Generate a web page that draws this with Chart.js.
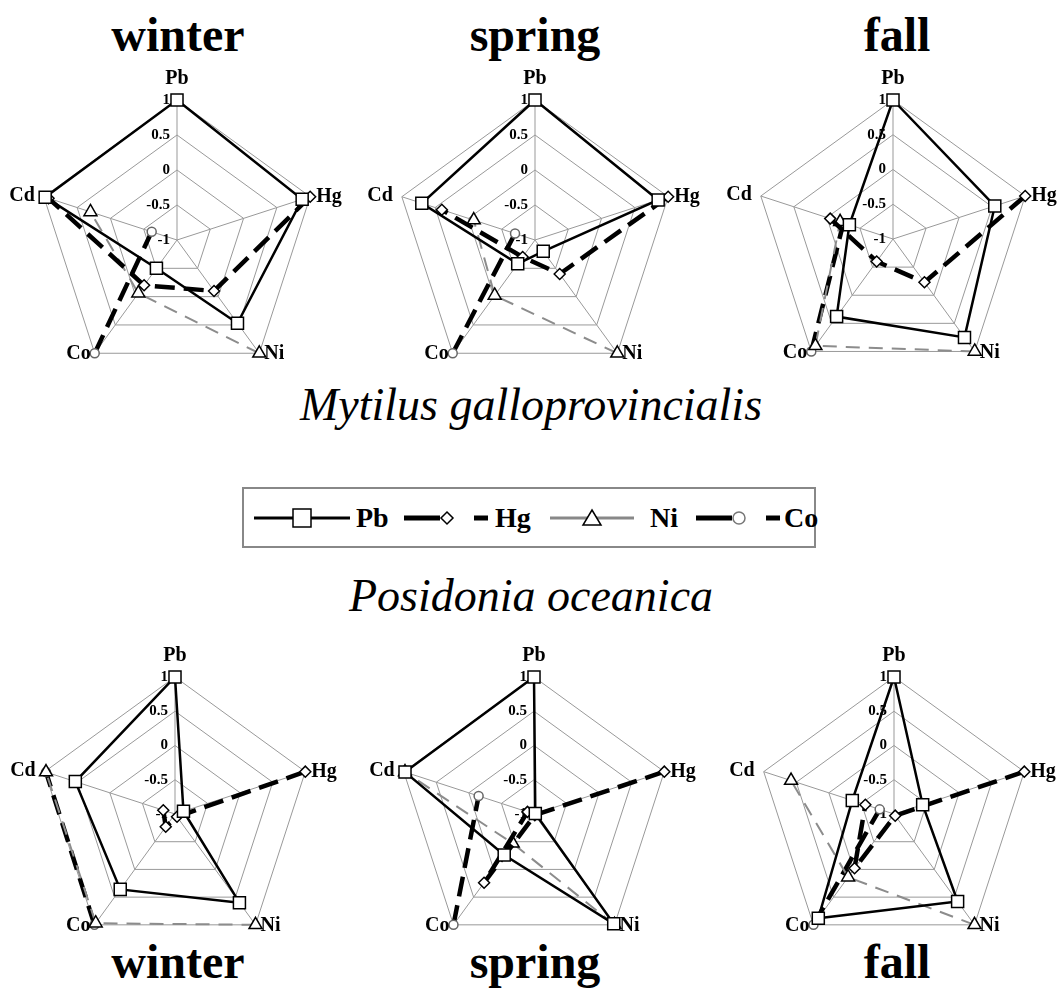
<!DOCTYPE html>
<html>
<head>
<meta charset="utf-8">
<script src="https://cdn.jsdelivr.net/npm/chart.js@4"></script>
<style>
  body { margin: 0; background: #fff; width: 1062px; height: 992px; position: relative; overflow: hidden;
         font-family: "Liberation Serif", "Times New Roman", serif; color: #000; }
  .title { position: absolute; width: 240px; text-align: center; font-weight: bold; font-size: 48px; line-height: 48px; }
  .species { position: absolute; left: 131px; width: 800px; text-align: center; font-style: italic; font-size: 46px; line-height: 46px; }
  canvas { position: absolute; }
  #legend { position: absolute; left: 242px; top: 487px; width: 574px; height: 61px; box-sizing: border-box;
            border: 2px solid #888; }
  #legend svg { position: absolute; top: 16px; }
  #legend span { position: absolute; top: 0; line-height: 57px; font-weight: bold; font-size: 28px; }
</style>
</head>
<body>

<div class="title" style="left:58px;top:11px">winter</div>
<div class="title" style="left:415px;top:11px">spring</div>
<div class="title" style="left:777px;top:11px">fall</div>

<div class="species" style="top:382px">Mytilus galloprovincialis</div>
<div class="species" style="top:573px">Posidonia oceanica</div>

<div class="title" style="left:58px;top:938px">winter</div>
<div class="title" style="left:415px;top:938px">spring</div>
<div class="title" style="left:777px;top:938px">fall</div>

<div id="legend">
  <svg style="left:10px" width="96" height="26">
    <line x1="0" y1="13" x2="96" y2="13" stroke="#000" stroke-width="3"/>
    <rect x="39" y="4" width="18" height="18" fill="#fff" stroke="#000" stroke-width="1.5"/>
  </svg>
  <span style="left:112px">Pb</span>
  <svg style="left:160px" width="86" height="26">
    <line x1="0" y1="13" x2="36" y2="13" stroke="#000" stroke-width="5"/>
    <polygon points="43,7 49,13 43,19 37,13" fill="#fff" stroke="#000" stroke-width="1.5"/>
    <line x1="70" y1="13" x2="84" y2="13" stroke="#000" stroke-width="5"/>
  </svg>
  <span style="left:251px">Hg</span>
  <svg style="left:306px" width="84" height="26">
    <line x1="0" y1="13" x2="84" y2="13" stroke="#888" stroke-width="3"/>
    <polygon points="42,5 51,20 33,20" fill="#fff" stroke="#000" stroke-width="1.5"/>
  </svg>
  <span style="left:406px">Ni</span>
  <svg style="left:452px" width="86" height="26">
    <line x1="0" y1="13" x2="36" y2="13" stroke="#000" stroke-width="5"/>
    <circle cx="43" cy="13" r="6" fill="#fff" stroke="#777" stroke-width="1.5"/>
    <line x1="70" y1="13" x2="84" y2="13" stroke="#000" stroke-width="5"/>
  </svg>
  <span style="left:540px">Co</span>
</div>

<script>
// radar axes (clockwise from top) and ring ticks
const axes = ['Pb', 'Hg', 'Ni', 'Co', 'Cd'];
const tickValues = [-1, -0.5, 0, 0.5, 1];
const tickLabels = ['-1', '-0.5', '0', '0.5', '1'];

// Mytilus galloprovincialis: one row per season (winter, spring, fall), values on Pb, Hg, Ni, Co, Cd
const mytilusPb = [[1, 0.88, 0.47, -0.5, 0.98], [1, 0.85, -0.8, -0.58, 0.7], [1, 0.54, 0.75, 0.38, -0.34]];
const mytilusHg = [[null, 1, -0.1, -0.2, 0.93], [null, 1, -0.4, -0.7, 0.4], [null, 1, -0.23, -0.6, -0.05]];
const mytilusNi = [[null, null, 1, -0.06, 0.3], [null, null, 1, -0.02, -0.08], [null, null, 1, 0.9, -0.2]];
const mytilusCo = [[null, null, null, 1, -0.62], [null, null, null, 1, -0.7], [null, null, null, 1, -0.25]];

// Posidonia oceanica
const posidoniaPb = [[1, -0.87, 0.6, 0.36, 0.53], [1, -0.98, 0.98, -0.26, 0.98], [1, -0.56, 0.58, 0.88, -0.36]];
const posidoniaHg = [[null, 1, -0.95, -0.77, -0.82], [null, 1, -0.98, 0.24, -0.9], [null, 1, -0.97, -0.02, -0.56]];
const posidoniaNi = [[null, null, 1, 0.97, 0.98], [null, null, 1, -0.47, 0.98], [null, null, 1, 0.14, 0.58]];
const posidoniaCo = [[null, null, null, 1, 0.98], [null, null, null, 1, -0.15], [null, null, null, 1, -0.78]];

// where each radar sits on the page
const panels = [
  { cx: 177, cy: 240, r: 140, set: 'm', s: 0 },
  { cx: 535, cy: 240, r: 140, set: 'm', s: 1 },
  { cx: 893, cy: 239, r: 139, set: 'm', s: 2 },
  { cx: 175, cy: 814, r: 137, set: 'p', s: 0 },
  { cx: 534, cy: 814, r: 137, set: 'p', s: 1 },
  { cx: 894, cy: 814, r: 137, set: 'p', s: 2 }
];
const PAD = 45;
const labelPos = [
  { align: 'center', dx: 0, dy: -21 },
  { align: 'left', dx: 6, dy: 0 },
  { align: 'left', dx: 5, dy: 1 },
  { align: 'right', dx: -4, dy: 1 },
  { align: 'right', dx: -9, dy: -1 }
];

const radarText = {
  id: 'radarText',
  beforeDatasetsDraw(chart) {
    const s = chart.scales.r, ctx = chart.ctx;
    ctx.save();
    ctx.fillStyle = '#000';
    ctx.font = 'bold 15px "Liberation Serif"';
    ctx.textAlign = 'right';
    ctx.textBaseline = 'middle';
    tickValues.forEach((v, i) => {
      ctx.fillText(tickLabels[i], s.xCenter - 7, s.yCenter - s.getDistanceFromCenterForValue(v));
    });
    ctx.restore();
  },
  afterDraw(chart) {
    const s = chart.scales.r, ctx = chart.ctx;
    ctx.save();
    ctx.fillStyle = '#000';
    ctx.font = 'bold 20px "Liberation Serif"';
    ctx.textBaseline = 'middle';
    axes.forEach((a, i) => {
      const p = s.getPointPosition(i, s.drawingArea);
      ctx.textAlign = labelPos[i].align;
      ctx.fillText(a, p.x + labelPos[i].dx, p.y + labelPos[i].dy);
    });
    ctx.restore();
  }
};

function datasets(pb, hg, ni, co) {
  const base = { fill: false, tension: 0, clip: false, pointBackgroundColor: '#fff', pointBorderWidth: 1.5 };
  return [
    Object.assign({}, base, { label: 'Pb', data: pb, borderColor: '#000', borderWidth: 2.5,
      pointStyle: 'rect', pointRadius: 8.5, pointBorderColor: '#000' }),
    Object.assign({}, base, { label: 'Hg', data: hg, borderColor: '#000', borderWidth: 4.5, borderDash: [20, 9],
      pointStyle: 'rectRot', pointRadius: 5.5, pointBorderColor: '#000' }),
    Object.assign({}, base, { label: 'Ni', data: ni, borderColor: '#8c8c8c', borderWidth: 2, borderDash: [14, 9],
      pointStyle: 'triangle', pointRadius: 7.5, pointBorderColor: '#000' }),
    Object.assign({}, base, { label: 'Co', data: co, borderColor: '#000', borderWidth: 4.5, borderDash: [20, 9],
      pointStyle: 'circle', pointRadius: 4.5, pointBorderColor: '#666' })
  ];
}

panels.forEach(p => {
  const canvas = document.createElement('canvas');
  const size = 2 * p.r + 2 * PAD;
  canvas.width = size;
  canvas.height = size;
  canvas.style.left = (p.cx - p.r - PAD) + 'px';
  canvas.style.top = (p.cy - p.r - PAD) + 'px';
  document.body.appendChild(canvas);

  const ds = p.set === 'm'
    ? datasets(mytilusPb[p.s], mytilusHg[p.s], mytilusNi[p.s], mytilusCo[p.s])
    : datasets(posidoniaPb[p.s], posidoniaHg[p.s], posidoniaNi[p.s], posidoniaCo[p.s]);

  new Chart(canvas.getContext('2d'), {
    type: 'radar',
    data: { labels: axes, datasets: ds },
    options: {
      responsive: false,
      animation: false,
      devicePixelRatio: 1,
      spanGaps: false,
      layout: { padding: PAD },
      plugins: { legend: { display: false }, tooltip: { enabled: false } },
      scales: {
        r: {
          min: -1,
          max: 1,
          ticks: { display: false, stepSize: 0.5 },
          pointLabels: { display: false },
          grid: { color: '#999', lineWidth: 1 },
          angleLines: { color: '#999', lineWidth: 1 }
        }
      }
    },
    plugins: [radarText]
  });
});
</script>
</body>
</html>
